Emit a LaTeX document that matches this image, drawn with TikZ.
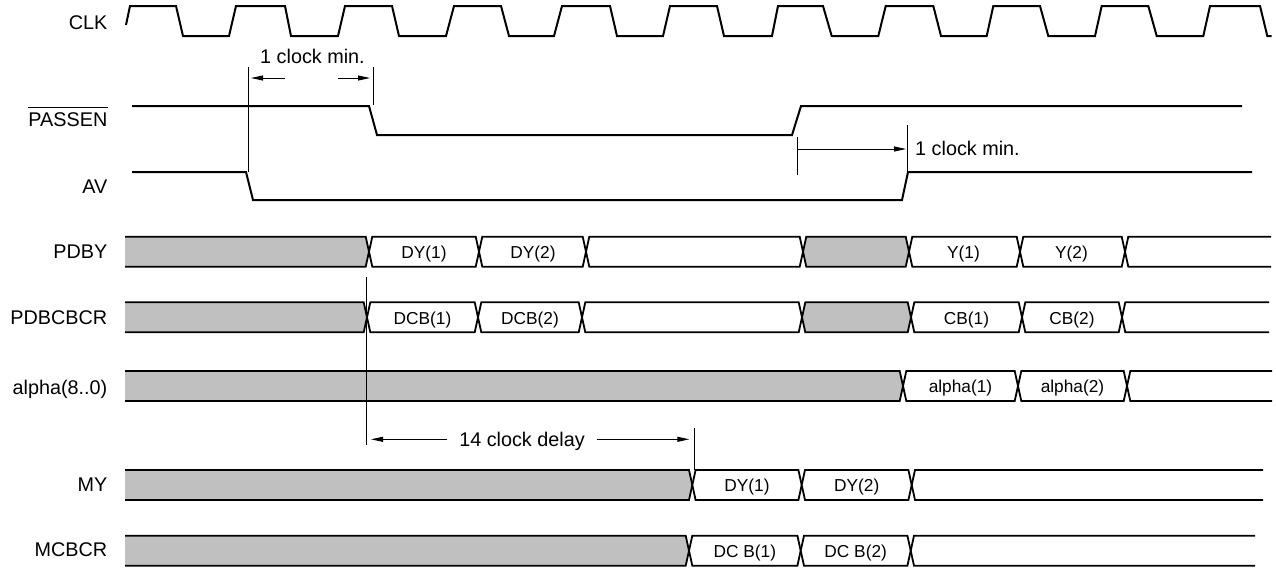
\documentclass[tikz,border=0pt]{standalone}
\usepackage{fontspec}
\setmainfont{Liberation Sans}
\usetikzlibrary{arrows.meta}

\definecolor{busgrey}{RGB}{192,192,192}

% bus pieces: #1,#2 = transition x, #3 = row centre (rows are 30 high)
\newcommand{\busfirst}[3]{%
  \filldraw[busline, fill=busgrey] (#1,#3-15) -- (#2-3.3,#3-15) -- (#2,#3) -- (#2-3.3,#3+15) -- (#1,#3+15);
}
\newcommand{\busseg}[4]{%
  \filldraw[busline, fill=#4] (#1+3.3,#3-15) -- (#2-3.3,#3-15) -- (#2,#3) -- (#2-3.3,#3+15) -- (#1+3.3,#3+15) -- (#1,#3) -- cycle;
}
\newcommand{\buslast}[3]{%
  \draw[busline] (#2,#3-15) -- (#1+3.3,#3-15) -- (#1,#3) -- (#1+3.3,#3+15) -- (#2,#3+15);
}

\begin{document}
\begin{tikzpicture}[
    x=1pt, y=-1pt,
    sig/.style={line width=2pt},
    busline/.style={line width=1.8pt},
    dim/.style={line width=0.9pt},
    dimarrow/.style={line width=0.9pt, -{Triangle[length=12pt,width=5pt]}},
    rowlabel/.style={inner sep=0pt, anchor=base east, font=\fontsize{19.8}{22}\selectfont},
    note/.style={inner sep=0pt, anchor=base, font=\fontsize{19.8}{22}\selectfont},
    datatext/.style={inner sep=0pt, anchor=base, font=\fontsize{17.3}{20}\selectfont}
]

\useasboundingbox (0,0) rectangle (1276,571);

% ================= signal names =================

\node[rowlabel] (lclk) at (107.5,29.3) {CLK};
\node[rowlabel] (lpassen) at (107.5,126.7) {PASSEN};
\draw[line width=1.3pt] ([yshift=19.4pt]lpassen.base west) -- ([yshift=19.4pt]lpassen.base east);
\node[rowlabel] (lav) at (107.5,193.5) {AV};
\node[rowlabel] (lpdby) at (107.5,258.3) {PDBY};
\node[rowlabel] (lpdbcbcr) at (107.5,324.3) {PDBCBCR};
\node[rowlabel] (lalpha) at (107.5,394.3) {alpha(8..0)};
\node[rowlabel] (lmy) at (107.5,491.7) {MY};
\node[rowlabel] (lmcbcr) at (107.5,556.7) {MCBCR};

% ================= CLK =================

\draw[sig] (126,25) -- (130,6) -- (176,6) -- (183,36) -- (229,36) -- (236,6)
  -- (285,6) -- (291,36) -- (338,36) -- (345,6) -- (392,6) -- (399,36)
  -- (446,36) -- (454,6) -- (501,6) -- (509,36) -- (554,36) -- (562,6)
  -- (610,6) -- (617,36) -- (663,36) -- (670,6) -- (717,6) -- (724,36)
  -- (772,36) -- (778,6) -- (823,6) -- (831.7,36) -- (878.3,36) -- (885.7,6)
  -- (933.3,6) -- (941,36) -- (986.7,36) -- (993.3,6) -- (1040,6) -- (1048.3,36)
  -- (1095,36) -- (1101.7,6) -- (1148.3,6) -- (1156.7,36) -- (1203.3,36) -- (1210,6)
  -- (1260,6) -- (1267.3,36) -- (1271.7,36);

% ================= PASSEN and AV =================

\draw[sig] (132,106) -- (369,106) -- (377,135) -- (792,135) -- (801,106) -- (1242,106);
\draw[sig] (132,172) -- (246,172) -- (253,200) -- (902,200) -- (908,172) -- (1252,172);

% 1 clock min. (top)
\coordinate (ma) at (248,67);
\coordinate (mb) at (248,172);
\coordinate (mc) at (373,67);
\coordinate (md) at (373,105);
\coordinate (me) at (285,78);
\coordinate (mf) at (251,78);
\coordinate (mg) at (338,78);
\coordinate (mh) at (370,78);
\draw[dim] (ma) -- (mb);
\draw[dim] (mc) -- (md);
\draw[dimarrow] (me) -- (mf);
\draw[dimarrow] (mg) -- (mh);
\node[note] (minone) at (312.5,63.3) {1 clock min.};

% 1 clock min. (right)
\coordinate (na) at (797,137);
\coordinate (nb) at (797,175);
\coordinate (nc) at (907,125);
\coordinate (nd) at (907,172);
\coordinate (ne) at (906,149);
\coordinate (nf) at (797,149);
\draw[dim] (na) -- (nb);
\draw[dim] (nc) -- (nd);
\draw[dimarrow] (nf) -- (ne);
\node[note, anchor=base west] (mintwo) at (915,155) {1 clock min.};

% ================= PDBY =================

\busfirst{125}{369}{251.7}
\busseg{369}{479}{251.7}{white}
\busseg{479}{586}{251.7}{white}
\busseg{586}{803}{251.7}{white}
\busseg{803}{909}{251.7}{busgrey}
\busseg{909}{1020}{251.7}{white}
\busseg{1020}{1125}{251.7}{white}
\buslast{1125}{1271}{251.7}
\node[datatext] (pdyone) at (424,258) {DY(1)};
\node[datatext] (pdytwo) at (533,258) {DY(2)};
\node[datatext] (pyone) at (963.5,258) {Y(1)};
\node[datatext] (pytwo) at (1071.5,258) {Y(2)};

% ================= PDBCBCR =================

\busfirst{125}{367}{317.3}
\busseg{367}{478}{317.3}{white}
\busseg{478}{582}{317.3}{white}
\busseg{582}{802}{317.3}{white}
\busseg{802}{911}{317.3}{busgrey}
\busseg{911}{1022}{317.3}{white}
\busseg{1022}{1122}{317.3}{white}
\buslast{1122}{1269}{317.3}
\node[datatext] (pdcbone) at (422.5,324) {DCB(1)};
\node[datatext] (pdcbtwo) at (530,324) {DCB(2)};
\node[datatext] (pcbone) at (966.5,324) {CB(1)};
\node[datatext] (pcbtwo) at (1072,324) {CB(2)};

% ================= alpha =================

\busfirst{125}{903}{386}
\busseg{903}{1018}{386}{white}
\busseg{1018}{1127}{386}{white}
\buslast{1127}{1272}{386}
\node[datatext] (aone) at (960.5,392.5) {alpha(1)};
\node[datatext] (atwo) at (1072.5,392.5) {alpha(2)};

% 14 clock delay
\coordinate (da) at (366.7,276.7);
\coordinate (db) at (366.7,445);
\coordinate (dc) at (694,428.3);
\coordinate (dd) at (694,470);
\coordinate (de) at (446.7,439.3);
\coordinate (df) at (371,439.3);
\coordinate (dg) at (596.7,439.3);
\coordinate (dh) at (689.3,439.3);
\draw[dim] (da) -- (db);
\draw[dim] (dc) -- (dd);
\draw[dimarrow] (de) -- (df);
\draw[dimarrow] (dg) -- (dh);
\node[note] (delay) at (522,446) {14 clock delay};

% ================= MY =================

\busfirst{125}{692.3}{485}
\busseg{692.3}{801.7}{485}{white}
\busseg{801.7}{911.7}{485}{white}
\buslast{911.7}{1263}{485}
\node[datatext] (mdyone) at (747,491.5) {DY(1)};
\node[datatext] (mdytwo) at (856.7,491.5) {DY(2)};

% ================= MCBCR =================

\busfirst{125}{689}{550.7}
\busseg{689}{800.7}{550.7}{white}
\busseg{800.7}{910.7}{550.7}{white}
\buslast{910.7}{1255}{550.7}
\node[datatext] (mdcbone) at (744.8,557) {DC B(1)};
\node[datatext] (mdcbtwo) at (855.7,557) {DC B(2)};

\end{tikzpicture}
\end{document}
